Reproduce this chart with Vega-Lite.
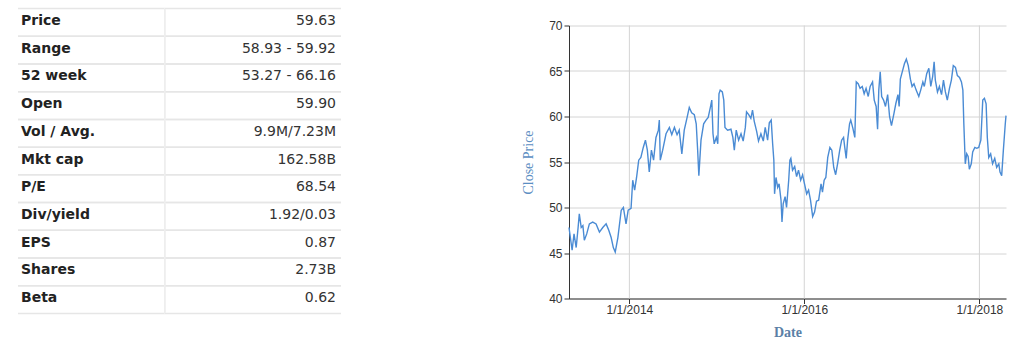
{
  "$schema": "https://vega.github.io/schema/vega-lite/v6.json",
  "padding": {"left": 17, "top": 7.5, "right": 5, "bottom": 5},
  "spacing": 179,
  "config": {"view": {"stroke": null}},
  "hconcat": [
    {
      "width": 323,
      "height": 305,
      "data": {"values": [
        {"label": "Price", "value": "59.63"},
        {"label": "Range", "value": "58.93 - 59.92"},
        {"label": "52 week", "value": "53.27 - 66.16"},
        {"label": "Open", "value": "59.90"},
        {"label": "Vol / Avg.", "value": "9.9M/7.23M"},
        {"label": "Mkt cap", "value": "162.58B"},
        {"label": "P/E", "value": "68.54"},
        {"label": "Div/yield", "value": "1.92/0.03"},
        {"label": "EPS", "value": "0.87"},
        {"label": "Shares", "value": "2.73B"},
        {"label": "Beta", "value": "0.62"}
      ]},
      "layer": [
        {
          "mark": {"type": "rule", "color": "#e6e6e6", "strokeWidth": 1.5},
          "encoding": {"y": {"field": "label", "type": "nominal", "sort": null, "bandPosition": 0, "axis": null, "scale": {"type": "band", "paddingInner": 0, "paddingOuter": 0}}}
        },
        {
          "mark": {"type": "rule", "color": "#e6e6e6", "strokeWidth": 1.5},
          "encoding": {"y": {"field": "label", "type": "nominal", "sort": null, "bandPosition": 1, "axis": null, "scale": {"type": "band", "paddingInner": 0, "paddingOuter": 0}}}
        },
        {
          "mark": {"type": "rule", "color": "#eeeeee", "strokeWidth": 1},
          "encoding": {"x": {"datum": 0.454, "type": "quantitative", "axis": null, "scale": {"domain": [0, 1], "nice": false, "zero": false}}}
        },
        {
          "mark": {"type": "text", "align": "left", "baseline": "middle", "dx": 3, "dy": -1.5, "font": "DejaVu Sans", "fontSize": 14, "fontWeight": "bold", "color": "#222222"},
          "encoding": {
            "x": {"datum": 0, "type": "quantitative", "axis": null, "scale": {"domain": [0, 1], "nice": false, "zero": false}},
            "y": {"field": "label", "type": "nominal", "sort": null, "axis": null, "scale": {"type": "band", "paddingInner": 0, "paddingOuter": 0}},
            "text": {"field": "label"}
          }
        },
        {
          "mark": {"type": "text", "align": "right", "baseline": "middle", "dx": -5, "dy": -1.5, "font": "DejaVu Sans", "fontSize": 14, "color": "#333333"},
          "encoding": {
            "x": {"datum": 1, "type": "quantitative", "axis": null, "scale": {"domain": [0, 1], "nice": false, "zero": false}},
            "y": {"field": "label", "type": "nominal", "sort": null, "axis": null, "scale": {"type": "band", "paddingInner": 0, "paddingOuter": 0}},
            "text": {"field": "value"}
          }
        }
      ]
    },
    {
      "width": 437,
      "height": 290,
      "layer": [
        {
          "data": {"values": [{"tick": "2014-01-01"}, {"tick": "2016-01-01"}, {"tick": "2018-01-01"}]},
          "mark": {"type": "rule", "color": "#d4d4d4", "strokeWidth": 1},
          "encoding": {
            "x": {"field": "tick", "type": "temporal", "title": "Date"},
            "y": {"datum": 40, "type": "quantitative", "title": "Close Price"},
            "y2": {"datum": 70}
          }
        },
        {
          "data": {"values": [
            {"date": "2013-04-24", "close": 47.8},
            {"date": "2013-05-07", "close": 45.3},
            {"date": "2013-05-15", "close": 47.1},
            {"date": "2013-05-24", "close": 45.6},
            {"date": "2013-06-01", "close": 47.8},
            {"date": "2013-06-06", "close": 49.3},
            {"date": "2013-06-14", "close": 47.8},
            {"date": "2013-06-21", "close": 48.0},
            {"date": "2013-06-27", "close": 46.4},
            {"date": "2013-07-07", "close": 47.1},
            {"date": "2013-07-18", "close": 48.2},
            {"date": "2013-08-01", "close": 48.4},
            {"date": "2013-08-15", "close": 48.2},
            {"date": "2013-08-29", "close": 47.3},
            {"date": "2013-09-12", "close": 47.8},
            {"date": "2013-09-26", "close": 48.2},
            {"date": "2013-10-07", "close": 47.5},
            {"date": "2013-10-17", "close": 46.7},
            {"date": "2013-10-26", "close": 45.6},
            {"date": "2013-11-03", "close": 45.1},
            {"date": "2013-11-14", "close": 46.7},
            {"date": "2013-11-28", "close": 49.7},
            {"date": "2013-12-07", "close": 50.0},
            {"date": "2013-12-18", "close": 48.2},
            {"date": "2013-12-27", "close": 49.7},
            {"date": "2014-01-08", "close": 49.9},
            {"date": "2014-01-15", "close": 53.0},
            {"date": "2014-01-23", "close": 51.9},
            {"date": "2014-01-31", "close": 53.3},
            {"date": "2014-02-09", "close": 55.2},
            {"date": "2014-02-18", "close": 55.5},
            {"date": "2014-02-28", "close": 56.6},
            {"date": "2014-03-09", "close": 57.4},
            {"date": "2014-03-17", "close": 56.3},
            {"date": "2014-03-25", "close": 53.9},
            {"date": "2014-04-03", "close": 56.3},
            {"date": "2014-04-12", "close": 55.2},
            {"date": "2014-04-22", "close": 57.7},
            {"date": "2014-05-02", "close": 58.5},
            {"date": "2014-05-06", "close": 59.6},
            {"date": "2014-05-10", "close": 55.2},
            {"date": "2014-05-20", "close": 56.3},
            {"date": "2014-06-03", "close": 58.1},
            {"date": "2014-06-17", "close": 58.8},
            {"date": "2014-06-27", "close": 58.0},
            {"date": "2014-07-08", "close": 58.8},
            {"date": "2014-07-19", "close": 58.0},
            {"date": "2014-07-28", "close": 58.5},
            {"date": "2014-08-08", "close": 55.9},
            {"date": "2014-08-18", "close": 58.5},
            {"date": "2014-08-30", "close": 59.9},
            {"date": "2014-09-08", "close": 61.0},
            {"date": "2014-09-18", "close": 60.4},
            {"date": "2014-09-29", "close": 60.2},
            {"date": "2014-10-07", "close": 59.2},
            {"date": "2014-10-13", "close": 56.3},
            {"date": "2014-10-18", "close": 53.5},
            {"date": "2014-10-27", "close": 57.4},
            {"date": "2014-11-07", "close": 59.2},
            {"date": "2014-11-17", "close": 59.6},
            {"date": "2014-11-26", "close": 59.9},
            {"date": "2014-12-05", "close": 61.0},
            {"date": "2014-12-11", "close": 61.8},
            {"date": "2014-12-16", "close": 58.1},
            {"date": "2014-12-21", "close": 57.0},
            {"date": "2014-12-30", "close": 57.7},
            {"date": "2015-01-05", "close": 57.0},
            {"date": "2015-01-10", "close": 62.5},
            {"date": "2015-01-15", "close": 62.9},
            {"date": "2015-01-24", "close": 62.7},
            {"date": "2015-01-30", "close": 61.8},
            {"date": "2015-02-04", "close": 58.8},
            {"date": "2015-02-15", "close": 58.5},
            {"date": "2015-03-01", "close": 58.6},
            {"date": "2015-03-09", "close": 57.7},
            {"date": "2015-03-15", "close": 56.3},
            {"date": "2015-03-23", "close": 58.5},
            {"date": "2015-04-02", "close": 57.4},
            {"date": "2015-04-12", "close": 58.1},
            {"date": "2015-04-21", "close": 57.3},
            {"date": "2015-04-30", "close": 58.8},
            {"date": "2015-05-05", "close": 60.5},
            {"date": "2015-05-14", "close": 60.2},
            {"date": "2015-05-23", "close": 59.8},
            {"date": "2015-05-30", "close": 60.7},
            {"date": "2015-06-06", "close": 59.5},
            {"date": "2015-06-16", "close": 58.4},
            {"date": "2015-06-24", "close": 57.3},
            {"date": "2015-07-04", "close": 58.1},
            {"date": "2015-07-14", "close": 57.3},
            {"date": "2015-07-22", "close": 58.8},
            {"date": "2015-08-01", "close": 57.4},
            {"date": "2015-08-08", "close": 59.3},
            {"date": "2015-08-16", "close": 59.6},
            {"date": "2015-08-22", "close": 57.0},
            {"date": "2015-08-27", "close": 55.2},
            {"date": "2015-08-30", "close": 51.5},
            {"date": "2015-09-05", "close": 53.3},
            {"date": "2015-09-12", "close": 52.2},
            {"date": "2015-09-18", "close": 52.6},
            {"date": "2015-09-26", "close": 50.8},
            {"date": "2015-09-30", "close": 48.4},
            {"date": "2015-10-05", "close": 50.4},
            {"date": "2015-10-13", "close": 51.2},
            {"date": "2015-10-19", "close": 50.0},
            {"date": "2015-10-28", "close": 53.0},
            {"date": "2015-11-02", "close": 55.2},
            {"date": "2015-11-06", "close": 55.4},
            {"date": "2015-11-13", "close": 54.1},
            {"date": "2015-11-22", "close": 54.5},
            {"date": "2015-11-30", "close": 53.4},
            {"date": "2015-12-08", "close": 54.1},
            {"date": "2015-12-17", "close": 53.0},
            {"date": "2015-12-25", "close": 53.6},
            {"date": "2016-01-02", "close": 52.6},
            {"date": "2016-01-11", "close": 51.5},
            {"date": "2016-01-19", "close": 51.9},
            {"date": "2016-01-27", "close": 50.8},
            {"date": "2016-02-05", "close": 49.0},
            {"date": "2016-02-13", "close": 49.5},
            {"date": "2016-02-21", "close": 50.7},
            {"date": "2016-03-01", "close": 50.8},
            {"date": "2016-03-11", "close": 52.6},
            {"date": "2016-03-17", "close": 51.7},
            {"date": "2016-03-24", "close": 53.0},
            {"date": "2016-03-31", "close": 53.3},
            {"date": "2016-04-08", "close": 55.5},
            {"date": "2016-04-17", "close": 56.6},
            {"date": "2016-04-25", "close": 56.3},
            {"date": "2016-05-03", "close": 54.4},
            {"date": "2016-05-11", "close": 53.6},
            {"date": "2016-05-19", "close": 54.8},
            {"date": "2016-05-28", "close": 56.3},
            {"date": "2016-06-05", "close": 57.4},
            {"date": "2016-06-13", "close": 57.7},
            {"date": "2016-06-18", "close": 56.6},
            {"date": "2016-06-24", "close": 55.4},
            {"date": "2016-06-30", "close": 57.4},
            {"date": "2016-07-08", "close": 59.2},
            {"date": "2016-07-13", "close": 59.6},
            {"date": "2016-07-22", "close": 58.7},
            {"date": "2016-07-30", "close": 57.7},
            {"date": "2016-08-05", "close": 63.8},
            {"date": "2016-08-13", "close": 63.6},
            {"date": "2016-08-21", "close": 63.1},
            {"date": "2016-08-30", "close": 63.3},
            {"date": "2016-09-07", "close": 62.5},
            {"date": "2016-09-15", "close": 63.1},
            {"date": "2016-09-24", "close": 62.2},
            {"date": "2016-10-02", "close": 63.3},
            {"date": "2016-10-12", "close": 63.8},
            {"date": "2016-10-19", "close": 61.8},
            {"date": "2016-10-27", "close": 61.1},
            {"date": "2016-11-02", "close": 58.6},
            {"date": "2016-11-07", "close": 62.9},
            {"date": "2016-11-13", "close": 64.9},
            {"date": "2016-11-19", "close": 62.2},
            {"date": "2016-11-27", "close": 61.8},
            {"date": "2016-12-05", "close": 61.1},
            {"date": "2016-12-14", "close": 62.4},
            {"date": "2016-12-22", "close": 60.0},
            {"date": "2016-12-30", "close": 59.0},
            {"date": "2017-01-09", "close": 60.3},
            {"date": "2017-01-17", "close": 61.4},
            {"date": "2017-01-26", "close": 62.4},
            {"date": "2017-01-31", "close": 61.1},
            {"date": "2017-02-05", "close": 64.1},
            {"date": "2017-02-13", "close": 64.9},
            {"date": "2017-02-22", "close": 65.8},
            {"date": "2017-03-02", "close": 66.3},
            {"date": "2017-03-10", "close": 65.6},
            {"date": "2017-03-19", "close": 64.1},
            {"date": "2017-03-26", "close": 63.3},
            {"date": "2017-04-03", "close": 63.6},
            {"date": "2017-04-12", "close": 62.9},
            {"date": "2017-04-23", "close": 62.2},
            {"date": "2017-05-01", "close": 62.9},
            {"date": "2017-05-10", "close": 63.8},
            {"date": "2017-05-16", "close": 63.3},
            {"date": "2017-05-26", "close": 64.7},
            {"date": "2017-06-04", "close": 65.3},
            {"date": "2017-06-12", "close": 63.3},
            {"date": "2017-06-20", "close": 64.4},
            {"date": "2017-06-26", "close": 66.0},
            {"date": "2017-07-01", "close": 64.0},
            {"date": "2017-07-10", "close": 62.7},
            {"date": "2017-07-18", "close": 63.3},
            {"date": "2017-07-27", "close": 62.4},
            {"date": "2017-08-04", "close": 64.0},
            {"date": "2017-08-12", "close": 62.7},
            {"date": "2017-08-20", "close": 61.8},
            {"date": "2017-08-29", "close": 63.1},
            {"date": "2017-09-06", "close": 64.0},
            {"date": "2017-09-14", "close": 65.6},
            {"date": "2017-09-23", "close": 65.4},
            {"date": "2017-10-01", "close": 64.5},
            {"date": "2017-10-10", "close": 64.3},
            {"date": "2017-10-18", "close": 63.8},
            {"date": "2017-10-24", "close": 62.9},
            {"date": "2017-10-28", "close": 59.2},
            {"date": "2017-11-01", "close": 56.3},
            {"date": "2017-11-03", "close": 54.8},
            {"date": "2017-11-09", "close": 55.9},
            {"date": "2017-11-15", "close": 55.6},
            {"date": "2017-11-20", "close": 54.2},
            {"date": "2017-11-28", "close": 54.8},
            {"date": "2017-12-04", "close": 56.1},
            {"date": "2017-12-13", "close": 56.6},
            {"date": "2017-12-21", "close": 56.5},
            {"date": "2017-12-29", "close": 56.6},
            {"date": "2018-01-07", "close": 57.4},
            {"date": "2018-01-15", "close": 61.8},
            {"date": "2018-01-22", "close": 62.0},
            {"date": "2018-01-29", "close": 61.4},
            {"date": "2018-02-03", "close": 57.7},
            {"date": "2018-02-09", "close": 55.5},
            {"date": "2018-02-17", "close": 55.9},
            {"date": "2018-02-25", "close": 54.8},
            {"date": "2018-03-06", "close": 55.4},
            {"date": "2018-03-14", "close": 54.4},
            {"date": "2018-03-23", "close": 54.8},
            {"date": "2018-03-28", "close": 53.9},
            {"date": "2018-04-04", "close": 53.5},
            {"date": "2018-04-11", "close": 56.3},
            {"date": "2018-04-19", "close": 59.2},
            {"date": "2018-04-22", "close": 60.1}
          ]},
          "mark": {"type": "line", "color": "#4a8bd4", "strokeWidth": 1.4},
          "encoding": {
            "x": {"field": "date", "type": "temporal", "title": "Date"},
            "y": {"field": "close", "type": "quantitative", "title": "Close Price"}
          }
        }
      ],
      "encoding": {
        "x": {
          "type": "temporal",
          "scale": {"type": "utc", "nice": false},
          "axis": {
            "values": [{"year": 2014, "month": 1, "date": 1, "utc": true}, {"year": 2016, "month": 1, "date": 1, "utc": true}, {"year": 2018, "month": 1, "date": 1, "utc": true}],
            "labelExpr": "utcFormat(datum.value, '%-m/%-d/%Y')",
            "grid": false,
            "domainColor": "#333333", "tickColor": "#333333", "tickSize": 5,
            "labelFont": "Liberation Sans", "labelFontSize": 12, "labelColor": "#333333", "labelPadding": 1,
            "titleFont": "Liberation Serif", "titleFontSize": 14, "titleFontWeight": "bold", "titleColor": "#5b7fa6", "titlePadding": 10
          }
        },
        "y": {
          "type": "quantitative",
          "scale": {"domain": [40, 70], "range": [290, 17], "nice": false, "zero": false},
          "axis": {
            "values": [40, 45, 50, 55, 60, 65, 70],
            "grid": true, "gridColor": "#d4d4d4",
            "domainColor": "#333333", "tickColor": "#333333", "tickSize": 5,
            "labelFont": "Liberation Sans", "labelFontSize": 12, "labelColor": "#333333", "labelPadding": 2,
            "titleFont": "Liberation Serif", "titleFontSize": 14, "titleFontWeight": "normal", "titleColor": "#5b8ec2", "titlePadding": 13
          }
        }
      }
    }
  ]
}
